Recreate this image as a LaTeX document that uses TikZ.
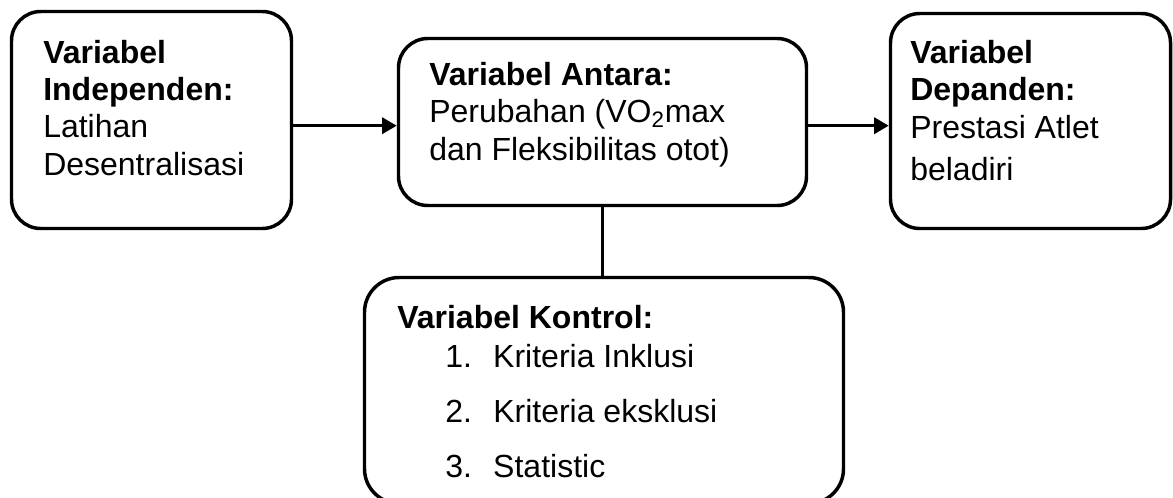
\documentclass[tikz,border=0pt]{standalone}
\usepackage{fontspec}
\setmainfont{Liberation Sans}
\usetikzlibrary{positioning,calc,arrows.meta}

\begin{document}
\begin{tikzpicture}[
    x=0.75pt, y=-0.75pt,
    varbox/.style={draw, line width=2.6pt, rounded corners=22pt, inner sep=0pt},
    vartext/.style={anchor=base west, align=left, inner sep=0pt, font=\fontsize{24}{28}\selectfont},
    link/.style={draw, line width=2.6pt},
    arrow/.style={link, -{Triangle[length=11pt, width=12pt]}}
]
\useasboundingbox (0,0) rectangle (1173,497);

% Define the boxes
\node[varbox, minimum width=210pt, minimum height=162.75pt] (indep) at (151.5,120) {};
\node[varbox, minimum width=306pt, minimum height=125.25pt] (antara) at (602.5,122) {};
\node[varbox, minimum width=210pt, minimum height=161.25pt] (dep) at (1030.5,121) {};
\node[varbox, rounded corners=26pt, minimum width=359.25pt, minimum height=169.5pt] (kontrol) at (604,390.5) {};

% Add texts inside the boxes (placed at the baseline of the last line)
\node[vartext] (indeptext) at (43,175) {\textbf{Variabel}\\\textbf{Independen:}\\Latihan\\Desentralisasi};
\node[vartext] (antaratext) at (429,160) {\textbf{Variabel Antara:}\\Perubahan (VO\textsubscript{2}max\\dan Fleksibilitas otot)};
\node[vartext] (deptext) at (910,180) {\textbf{Variabel}\\\textbf{Depanden:}\\Prestasi Atlet\\[3.5pt]beladiri};
\node[vartext] (kontroltext) at (397,477) {\textbf{Variabel Kontrol:}\\[1.25pt]
    \hspace*{36pt}\makebox[36pt][l]{1.}Kriteria Inklusi\\[13.25pt]
    \hspace*{36pt}\makebox[36pt][l]{2.}Kriteria eksklusi\\[13.25pt]
    \hspace*{36pt}\makebox[36pt][l]{3.}Statistic};

% Draw connectors
\draw[arrow] ($(indep.east)+(0,5.7)$) -- ($(indep.east -| antara.west)+(0,5.7)$);
\draw[arrow] ($(antara.east)+(0,3.7)$) -- ($(antara.east -| dep.west)+(0,3.7)$);
\draw[link] (antara.south) -- (antara.south |- kontrol.north);

\end{tikzpicture}
\end{document}
